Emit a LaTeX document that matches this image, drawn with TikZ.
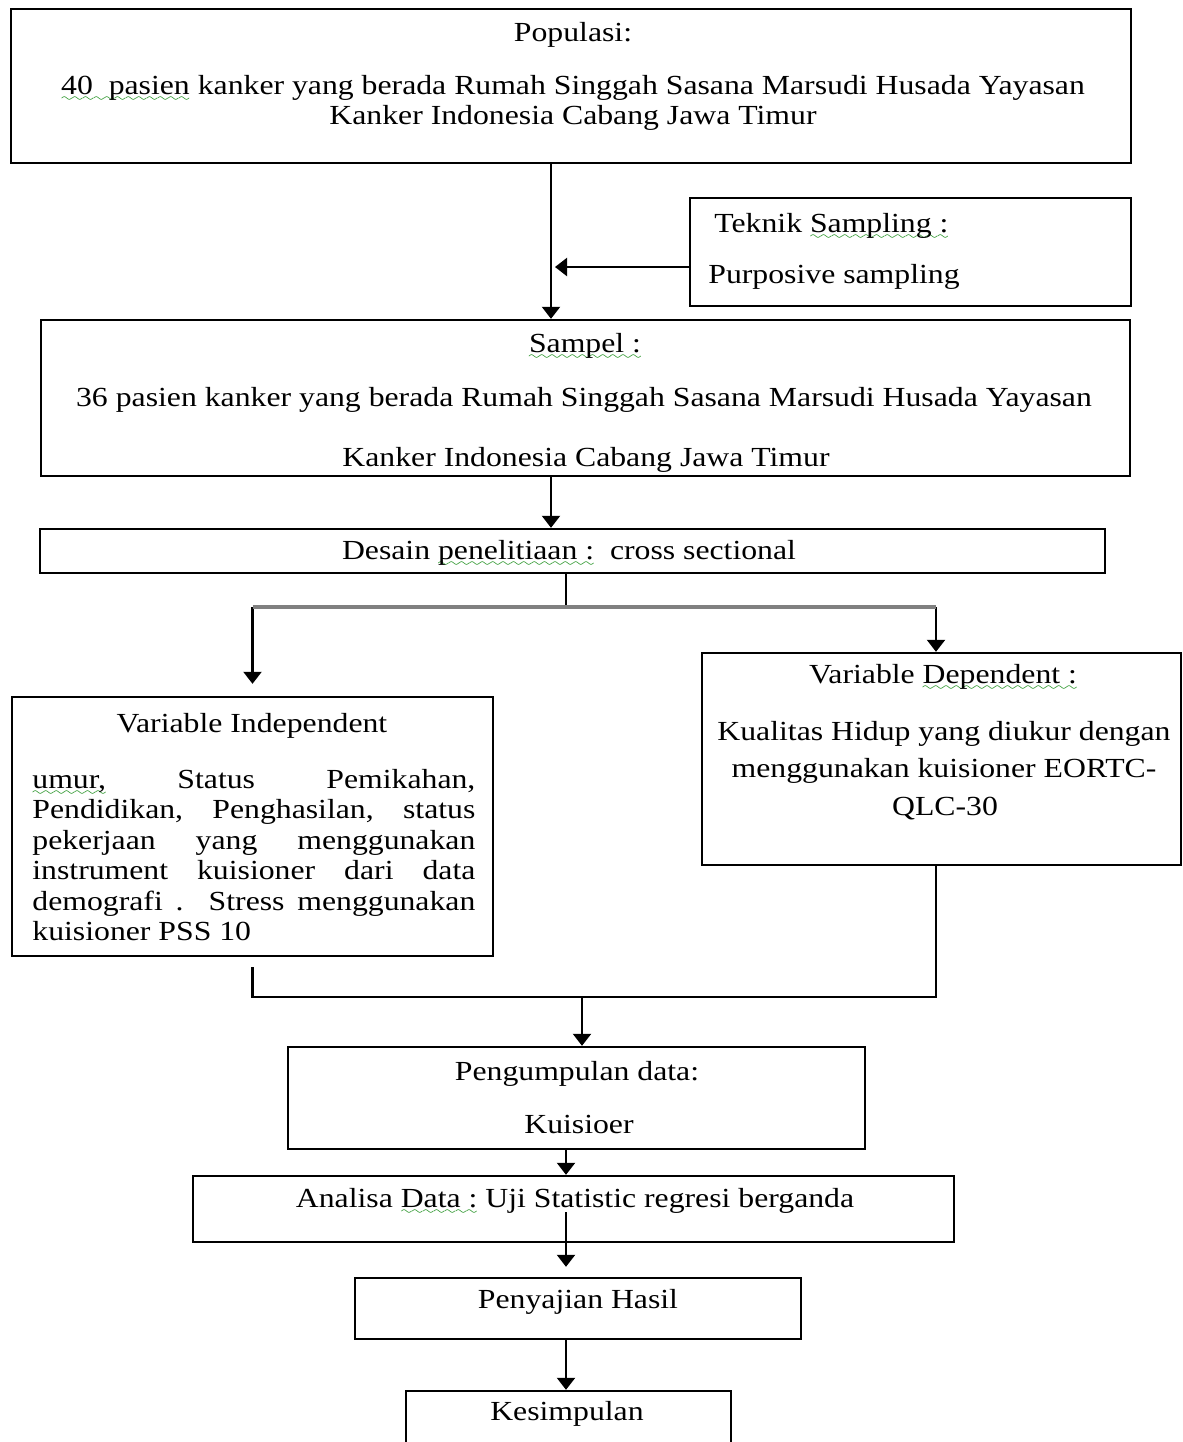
\documentclass[tikz,border=0pt]{standalone}
\usepackage{fontspec}
\setmainfont{Liberation Serif}[FakeStretch=1.15]
\usetikzlibrary{arrows.meta,fit}

\definecolor{wavegreen}{RGB}{0,128,0}
\font\wavefont=lasy6
\newcommand\spellwave[1]{\setbox0\hbox{#1}\rlap{\lower3.5pt\hbox to\wd0{\color{wavegreen}\xleaders\hbox{\wavefont\char58}\hfil}}\box0\relax}
\newcommand\bodyfont{\fontsize{13.8pt}{15.5pt}\selectfont}
\newcommand\fullline[1]{\makebox[221.5pt][s]{#1}}

\begin{document}
\begin{tikzpicture}[x=0.5pt, y=-0.5pt,
    box/.style={draw, line width=1.2pt, inner sep=0pt},
    txt/.style={anchor=base, inner sep=0pt, font=\bodyfont},
    arr/.style={line width=1.1pt, -{Triangle[width=9pt,length=6pt]}},
    link/.style={line width=1.1pt}]
    \useasboundingbox (0,0) rectangle (1183,1442);
    \clip (0,0) rectangle (1183,1442);

    % boxes
    \node[box, fit={(11,9) (1131,163)}] (populasi) {};
    \node[box, fit={(690,198) (1131,306)}] (teknik) {};
    \node[box, fit={(41,320) (1130,476)}] (sampel) {};
    \node[box, fit={(40,529) (1105,573)}] (desain) {};
    \node[box, fit={(12,697) (493,956)}] (indep) {};
    \node[box, fit={(702,653) (1181,865)}] (dep) {};
    \node[box, fit={(288,1047) (865,1149)}] (pengumpulan) {};
    \node[box, fit={(193,1176) (954,1242)}] (analisa) {};
    \node[box, fit={(355,1278) (801,1339)}] (penyajian) {};
    \node[box, fit={(406,1391) (731,1480)}] (kesimpulan) {};

    % texts
    \node[txt] (populasi1) at (573,41) {Populasi:};
    \node[txt] (populasi2) at (573,94) {\spellwave{40\ \ pasien} kanker yang berada Rumah Singgah Sasana Marsudi Husada Yayasan};
    \node[txt] (populasi3) at (573,124) {Kanker Indonesia Cabang Jawa Timur};

    \node[txt, anchor=base west] (teknik1) at (714,232) {Teknik \spellwave{Sampling :}};
    \node[txt, anchor=base west] (teknik2) at (708,283) {Purposive sampling};

    \node[txt] (sampel1) at (585,352) {\spellwave{Sampel :}};
    \node[txt] (sampel2) at (584,406) {36 pasien kanker yang berada Rumah Singgah Sasana Marsudi Husada Yayasan};
    \node[txt] (sampel3) at (586,466) {Kanker Indonesia Cabang Jawa Timur};

    \node[txt] (desain1) at (569,559) {Desain \spellwave{penelitiaan :}\ \ cross sectional};

    \node[txt] (indep1) at (252,732) {Variable Independent};
    \node[txt, anchor=base west] (indep2) at (32,788) {\fullline{\spellwave{umur,} Status Pemikahan,}};
    \node[txt, anchor=base west] (indep3) at (32,818) {\fullline{Pendidikan, Penghasilan, status}};
    \node[txt, anchor=base west] (indep4) at (32,849) {\fullline{pekerjaan yang menggunakan}};
    \node[txt, anchor=base west] (indep5) at (32,879) {\fullline{instrument kuisioner dari data}};
    \node[txt, anchor=base west] (indep6) at (32,910) {\fullline{demografi . Stress menggunakan}};
    \node[txt, anchor=base west] (indep7) at (32,940) {kuisioner PSS 10};

    \node[txt] (dep1) at (943,683) {Variable \spellwave{Dependent :}};
    \node[txt] (dep2) at (944,740) {Kualitas Hidup yang diukur dengan};
    \node[txt] (dep3) at (944,777) {menggunakan kuisioner EORTC-};
    \node[txt] (dep4) at (945,815) {QLC-30};

    \node[txt] (pengumpulan1) at (577,1080) {Pengumpulan data:};
    \node[txt] (pengumpulan2) at (579,1133) {Kuisioer};
    \node[txt] (analisa1) at (575,1207) {Analisa \spellwave{Data :} Uji Statistic regresi berganda};
    \node[txt] (penyajian1) at (578,1308) {Penyajian Hasil};
    \node[txt] (kesimpulan1) at (567,1420) {Kesimpulan};

    % connectors
    \coordinate (trunk) at (551,0);
    \coordinate (teknikout) at (690,267);
    \coordinate (branch) at (566,607);
    \coordinate (depin) at (936,0);
    \coordinate (merge) at (582,997);
    \coordinate (spine) at (566,0);
    \coordinate (analisaout) at (566,1212);

    \draw[arr] (populasi.south -| trunk) -- (sampel.north -| trunk);
    \draw[arr, shorten >=2pt] (teknikout) -- (teknikout -| trunk);
    \draw[arr] (sampel.south -| trunk) -- (desain.north -| trunk);
    \draw[link] (desain.south -| branch) -- (branch);
    \draw[arr, shorten >=6pt] (branch -| indep.north) -- (indep.north);
    \draw[arr] (branch -| depin) -- (dep.north -| depin);
    \draw[line width=2pt, gray] (branch -| indep.north) -- (branch -| depin);
    \draw[link, shorten <=5pt] (indep.south) |- (merge -| depin) -- (dep.south -| depin);
    \draw[arr] (merge) -- (pengumpulan.north -| merge);
    \draw[arr] (pengumpulan.south -| spine) -- (analisa.north -| spine);
    \draw[arr, shorten >=5pt] (analisaout) -- (penyajian.north -| spine);
    \draw[arr] (penyajian.south -| spine) -- (kesimpulan.north -| spine);
\end{tikzpicture}
\end{document}
